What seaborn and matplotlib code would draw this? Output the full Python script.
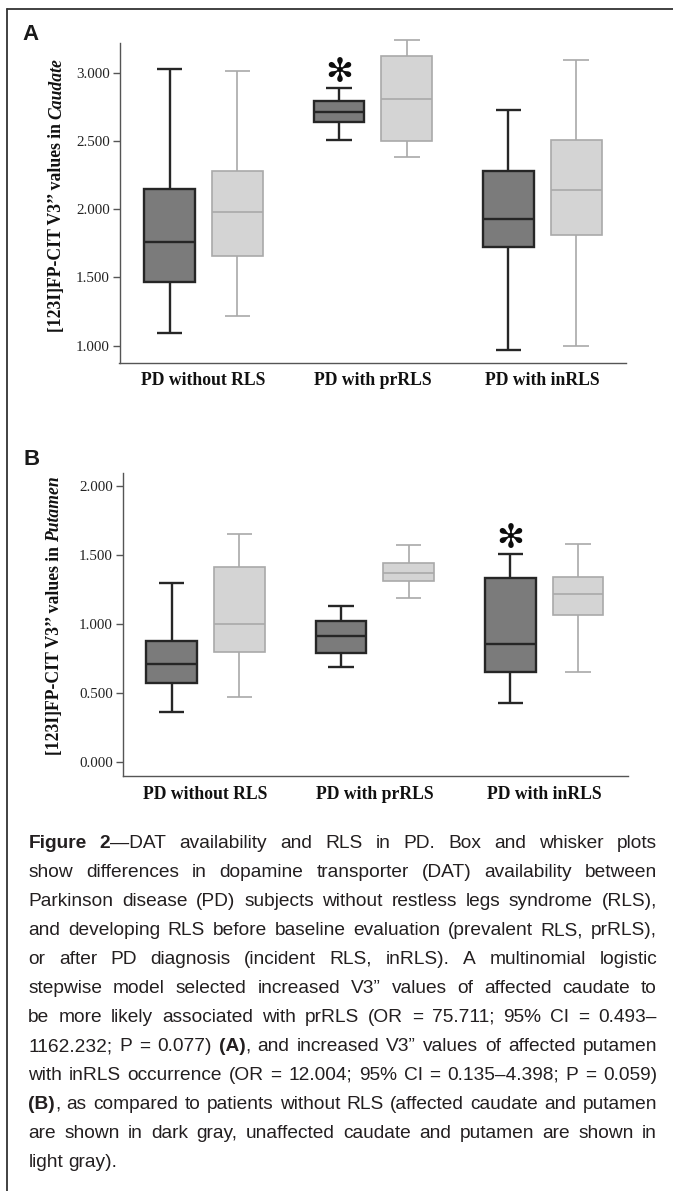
import numpy as np
import pandas as pd
import matplotlib
matplotlib.use("Agg")
import matplotlib.pyplot as plt
from matplotlib import font_manager
from matplotlib.lines import Line2D
from matplotlib.ticker import FormatStrFormatter
from matplotlib.transforms import IdentityTransform
import seaborn as sns

# Datos: resumen de cinco números
# (bigote inferior, Q1, mediana, Q3, bigote superior)
groups = ["PD without RLS", "PD with prRLS", "PD with inRLS"]
sides = ["affected", "unaffected"]

caudate_affected = [
    [1.09, 1.47, 1.76, 2.15, 3.03],
    [2.51, 2.64, 2.71, 2.79, 2.89],
    [0.97, 1.72, 1.93, 2.28, 2.73],
]
caudate_unaffected = [
    [1.22, 1.66, 1.98, 2.28, 3.01],
    [2.38, 2.50, 2.81, 3.12, 3.24],
    [1.00, 1.81, 2.14, 2.51, 3.09],
]
putamen_affected = [
    [0.36, 0.57, 0.71, 0.88, 1.30],
    [0.69, 0.79, 0.91, 1.02, 1.13],
    [0.43, 0.65, 0.855, 1.33, 1.51],
]
putamen_unaffected = [
    [0.47, 0.80, 1.00, 1.41, 1.65],
    [1.19, 1.31, 1.37, 1.44, 1.57],
    [0.65, 1.065, 1.22, 1.34, 1.58],
]

caudate_ticks = [1.0, 1.5, 2.0, 2.5, 3.0]
putamen_ticks = [0.0, 0.5, 1.0, 1.5, 2.0]

# asteriscos (grupo marcado, altura)
star_groups = ["PD with prRLS", "PD with inRLS"]
star_values = [3.0, 1.62]

caption_lines = [
    "**Figure 2**—DAT availability and RLS in PD. Box and whisker plots",
    "show differences in dopamine transporter (DAT) availability between",
    "Parkinson disease (PD) subjects without restless legs syndrome (RLS),",
    "and developing RLS before baseline evaluation (prevalent RLS, prRLS),",
    "or after PD diagnosis (incident RLS, inRLS). A multinomial logistic",
    "stepwise model selected increased V3” values of affected caudate to",
    "be more likely associated with prRLS (OR = 75.711; 95% CI = 0.493–",
    "1162.232; P = 0.077) **(A)**, and increased V3” values of affected putamen",
    "with inRLS occurrence (OR = 12.004; 95% CI = 0.135–4.398; P = 0.059)",
    "**(B)**, as compared to patients without RLS (affected caudate and putamen",
    "are shown in dark gray, unaffected caudate and putamen are shown in",
    "light gray).",
]

# Estilo
sns.set_style("ticks")
plt.rcParams["font.family"] = ["Liberation Serif", "DejaVu Serif"]

W, H, DPI = 673, 1191, 100
fills = {"affected": "#7b7b7b", "unaffected": "#d4d4d4"}
edges = {"affected": ("#262626", 1.7), "unaffected": ("#a9a9a9", 1.2)}


def has_font(name):
    try:
        font_manager.findfont(font_manager.FontProperties(family=name),
                              fallback_to_default=False)
        return True
    except ValueError:
        return False


caption_font = "Liberation Sans Narrow" if has_font("Liberation Sans Narrow") else "Liberation Sans"


def long_table(affected, unaffected):
    rows = []
    for side, summaries in zip(sides, [affected, unaffected]):
        for g, vals in zip(groups, summaries):
            for v in vals:
                rows.append({"group": g, "side": side, "value": v})
    return pd.DataFrame(rows)


def axes_rect(left, top, right, bottom):
    return [left / W, 1 - bottom / H, (right - left) / W, (bottom - top) / H]


def side_of(x):
    # caja a la izquierda del centro del grupo = afectado
    return "affected" if x - round(x) < 0 else "unaffected"


fig = plt.figure(figsize=(W / DPI, H / DPI), dpi=DPI)
px = IdentityTransform()

ax_a = fig.add_axes(axes_rect(119.5, 43, 626, 362.7))
ax_b = fig.add_axes(axes_rect(122.7, 473.3, 628, 776))

panels = [
    (ax_a, long_table(caudate_affected, caudate_unaffected), caudate_ticks,
     (0.875, 3.218), (-0.496, 2.494)),
    (ax_b, long_table(putamen_affected, putamen_unaffected), putamen_ticks,
     (-0.101, 2.092), (-0.489, 2.495)),
]

for i, (ax, df, ticks, ylim, xlim) in enumerate(panels):
    sns.boxplot(data=df, x="group", y="value", hue="side",
                order=groups, hue_order=sides, palette=fills, saturation=1,
                whis=(0, 100), showfliers=False, width=0.8, gap=0.25,
                linecolor="#262626", linewidth=1.4, legend=False, ax=ax)
    # bordes distintos para cada lado
    for p in ax.patches:
        xm = p.get_path().vertices[:, 0].mean()
        color, lw = edges[side_of(xm)]
        p.set_edgecolor(color)
        p.set_linewidth(lw)
        p.set_clip_on(False)
    for ln in ax.lines:
        xd = np.asarray(ln.get_xdata(), dtype=float)
        if xd.size == 0:
            continue
        color, lw = edges[side_of(xd.mean())]
        ln.set_color(color)
        ln.set_linewidth(lw)
        ln.set_solid_capstyle("butt")
        ln.set_clip_on(False)
    ax.set_xlabel("")
    ax.set_ylabel("")
    ax.set_ylim(*ylim)
    ax.set_xlim(*xlim)
    ax.set_yticks(ticks)
    ax.yaxis.set_major_formatter(FormatStrFormatter("%.3f"))
    ax.set_xticks(range(len(groups)))
    ax.set_xticklabels(groups, fontweight="bold", fontsize=12.7, color="#111111")
    ax.tick_params(axis="x", length=0, pad=7)
    ax.tick_params(axis="y", length=5, width=1, color="#555555", pad=2,
                   labelsize=10.8, labelcolor="#222222")
    for s in ["top", "right"]:
        ax.spines[s].set_visible(False)
    for s in ["left", "bottom"]:
        ax.spines[s].set_color("#555555")
        ax.spines[s].set_linewidth(1.0)
    # asterisco sobre la caja afectada
    gx = groups.index(star_groups[i]) - 0.2
    ax.text(gx, star_values[i], "✻", fontfamily="DejaVu Sans", fontsize=24,
            fontweight="bold", ha="center", va="center", color="#0d0d0d")

renderer = fig.canvas.get_renderer()

# Etiquetas del eje y con parte en cursiva
ylabels = [("[123I]FP-CIT V3’’ values in", "Caudate", 56.5, 195),
           ("[123I]FP-CIT V3’’ values in", "Putamen", 54.5, 616)]
for plain, region, xc, yc in ylabels:
    kw = dict(rotation=90, ha="center", va="bottom", fontsize=12.7,
              fontweight="bold", color="#111111", transform=px)
    t1 = fig.text(0, 0, plain, **kw)
    t2 = fig.text(0, 0, region, fontstyle="italic", **kw)
    h1 = t1.get_window_extent(renderer).height
    h2 = t2.get_window_extent(renderer).height
    sp = 4.0
    y0 = (H - yc) - (h1 + h2 + sp) / 2
    t1.set_position((xc, y0))
    t2.set_position((xc, y0 + h1 + sp))

# Letras de panel
fig.text(22, H - 40, "A", fontfamily="Liberation Sans", fontweight="bold",
         fontsize=16, color="#1a1a1a", transform=px, va="baseline")
fig.text(23.5, H - 465, "B", fontfamily="Liberation Sans", fontweight="bold",
         fontsize=16, color="#1a1a1a", transform=px, va="baseline")

# Marco
fig.add_artist(Line2D([7.3, W], [H - 9.3, H - 9.3], transform=px,
                      color="#333333", lw=1.3))
fig.add_artist(Line2D([7.3, 7.3], [0, H - 9.3], transform=px,
                      color="#333333", lw=1.3))


# Pie de figura justificado
def parse(line):
    words = [[]]
    for k, chunk in enumerate(line.split("**")):
        bold = k % 2 == 1
        for j, p in enumerate(chunk.split(" ")):
            if j > 0:
                words.append([])
            if p:
                words[-1].append((p, bold))
    return [w for w in words if w]


left_px, right_px = 28.3, 657.0
base0, step = 848.0, 29.0
cap_size = 16.0


def measure(text, bold, size):
    t = fig.text(0, 0, text, fontfamily=caption_font, fontsize=size,
                 fontweight="bold" if bold else "normal", transform=px)
    w = t.get_window_extent(renderer).width
    t.remove()
    return w


parsed = [parse(l) for l in caption_lines]
space_w = measure("a a", False, cap_size) - measure("aa", False, cap_size)
natural = []
for words in parsed[:-1]:
    tot = sum(measure(s, b, cap_size) for w in words for s, b in w)
    natural.append(tot + space_w * (len(words) - 1))
if max(natural) > (right_px - left_px):
    cap_size = cap_size * (right_px - left_px) / max(natural) * 0.99
    space_w = measure("a a", False, cap_size) - measure("aa", False, cap_size)

for li, words in enumerate(parsed):
    y = H - (base0 + li * step)
    arts = []
    widths = []
    for w in words:
        segs = []
        for s, b in w:
            t = fig.text(0, y, s, fontfamily=caption_font, fontsize=cap_size,
                         fontweight="bold" if b else "normal", color="#231f20",
                         transform=px, va="baseline", ha="left")
            segs.append((t, t.get_window_extent(renderer).width))
        arts.append(segs)
        widths.append(sum(sw for _, sw in segs))
    if li < len(parsed) - 1 and len(words) > 1:
        gap = (right_px - left_px - sum(widths)) / (len(words) - 1)
    else:
        gap = space_w
    x = left_px
    for segs, ww in zip(arts, widths):
        xs = x
        for t, sw in segs:
            t.set_position((xs, y))
            xs += sw
        x += ww + gap

fig.savefig("out.png", dpi=DPI)
